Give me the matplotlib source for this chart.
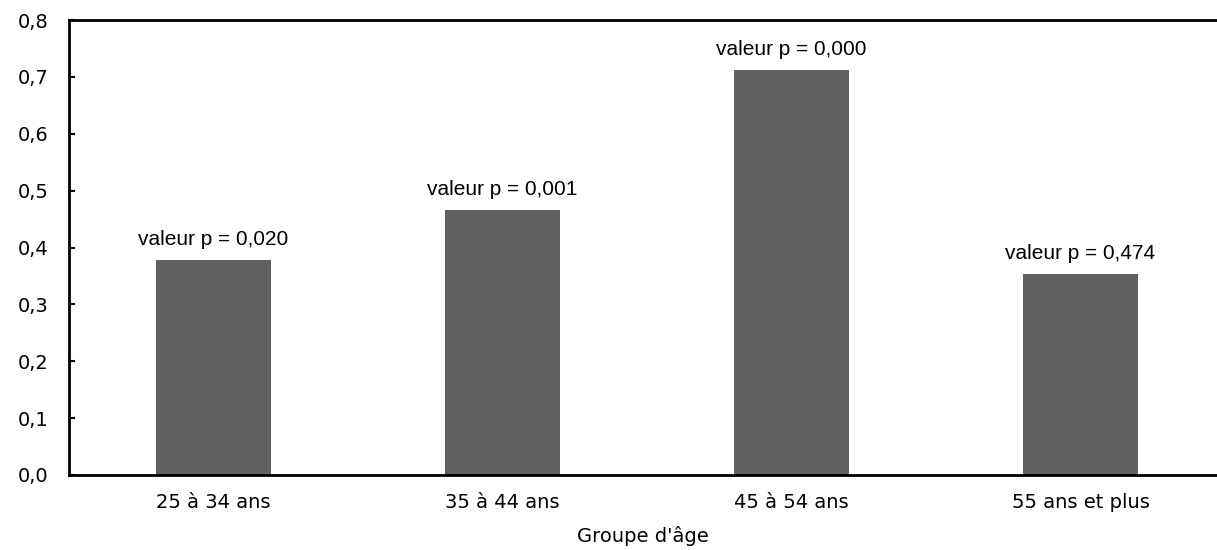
import numpy as np
import matplotlib.pyplot as plt

groups = ["25 à 34 ans", "35 à 44 ans", "45 à 54 ans", "55 ans et plus"]
values = [0.378, 0.466, 0.712, 0.353]
pvals = ["0,020", "0,001", "0,000", "0,474"]

fig = plt.figure(figsize=(12.17, 5.5), dpi=100)
ax = fig.add_axes([69 / 1217, 1 - 475 / 550, 1 - 69 / 1217, (475 - 20) / 550])

x = np.arange(len(groups))
ax.bar(x, values, width=0.4, color="#606060", zorder=2)

for xi, v, p in zip(x, values, pvals):
    ax.text(xi, v + 0.02, f"valeur p = {p}", ha="center", va="bottom",
            fontsize=15, family="Liberation Sans")

ax.set_xlim(-0.5, 3.5 - 8 / 289)
ax.set_ylim(0, 0.8)
ticks = np.arange(0, 0.81, 0.1)
ax.set_yticks(ticks)
ax.set_yticklabels([f"{t:.1f}".replace(".", ",") for t in ticks],
                   fontsize=14, family="DejaVu Sans")
ax.set_xticks(x)
ax.set_xticklabels(groups, fontsize=14, family="DejaVu Sans")
ax.tick_params(axis="y", direction="in", length=4, width=1.5, pad=15)
ax.tick_params(axis="x", length=0, pad=13)
ax.set_xlabel("Groupe d'âge", fontsize=14, family="DejaVu Sans", labelpad=10)

for s in ["left", "bottom", "top"]:
    ax.spines[s].set_linewidth(2)
ax.spines["right"].set_visible(False)

fig.savefig("out.png", dpi=100)
